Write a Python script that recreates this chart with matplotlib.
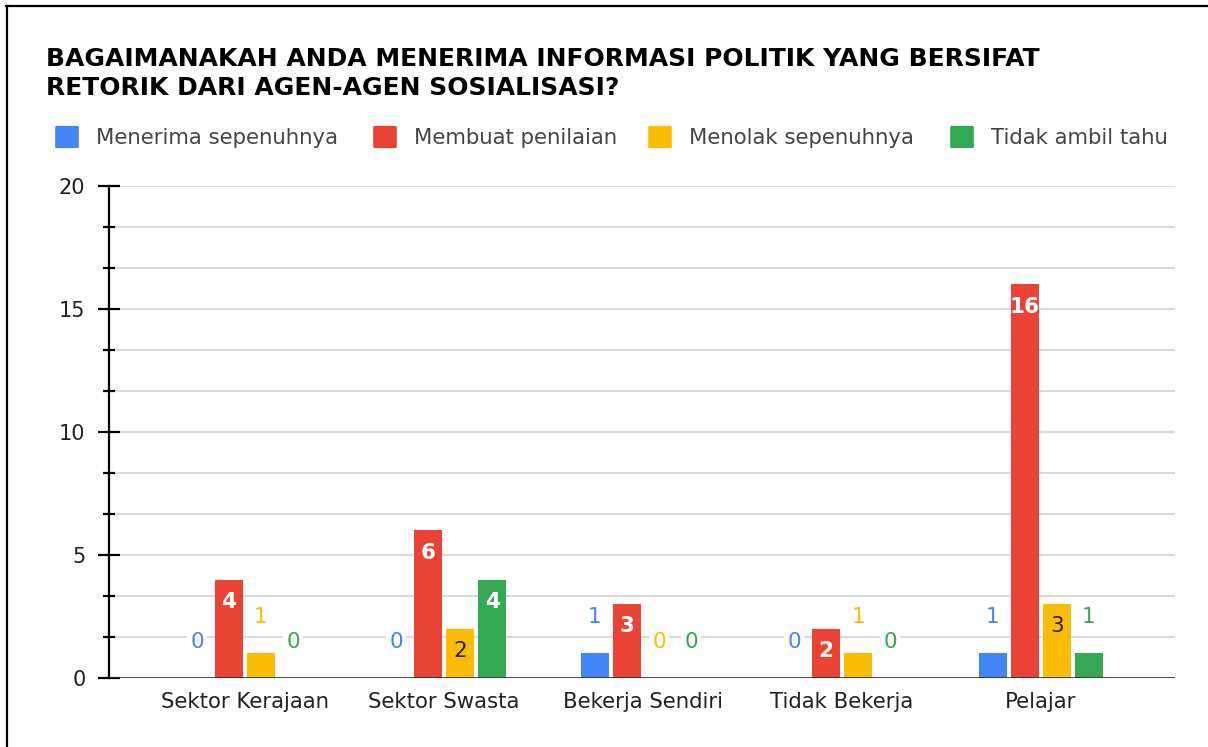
import matplotlib
matplotlib.use("Agg")
import matplotlib.pyplot as plt
import numpy as np
from matplotlib.lines import Line2D
from matplotlib.patches import FancyBboxPatch

title_lines = ["BAGAIMANAKAH ANDA MENERIMA INFORMASI POLITIK YANG BERSIFAT",
               "RETORIK DARI AGEN-AGEN SOSIALISASI?"]
categories = ["Sektor Kerajaan", "Sektor Swasta", "Bekerja Sendiri", "Tidak Bekerja", "Pelajar"]
series_names = ["Menerima sepenuhnya", "Membuat penilaian", "Menolak sepenuhnya", "Tidak ambil tahu"]
menerima = [0, 0, 1, 0, 1]
membuat = [4, 6, 3, 2, 16]
menolak = [1, 2, 0, 1, 3]
tidak_ambil = [0, 4, 0, 0, 1]
series_values = [menerima, membuat, menolak, tidak_ambil]
colors = ["#4285F4", "#EA4335", "#FBBC04", "#34A853"]
inside_text_colors = ["#ffffff", "#ffffff", "#222222", "#ffffff"]
y_major = [0, 5, 10, 15, 20]

FONT = "DejaVu Sans"
W, H = 1208, 747
fig = plt.figure(figsize=(W / 100, H / 100), dpi=100)
fig.patch.set_facecolor("white")

def fx(px):
    return px / W

def fy(py):
    return 1 - py / H

ax = fig.add_axes([fx(109), fy(678), fx(1175) - fx(109), fy(186) - fy(678)])
ax.set_facecolor("white")

bar_w = 28 / 199
step = 32 / 199
x = np.arange(len(categories))
offsets = (np.arange(4) - 1.5) * step

ax.set_xlim((109 - 245) / 199, (1175 - 245) / 199)
ax.set_ylim(0, 20)

# grid
minor = [v for v in np.arange(0, 20.01, 5 / 3) if v > 0.01]
for v in minor:
    ax.axhline(v, color="#d9d9d9", lw=1.4, zorder=0)

for i, (vals, c) in enumerate(zip(series_values, colors)):
    ax.bar(x + offsets[i], vals, width=bar_w, color=c, zorder=3, linewidth=0)
    for xi, v in zip(x + offsets[i], vals):
        if v >= 2:
            ax.annotate(str(v), (xi, v), xytext=(0, -16), textcoords="offset points",
                        ha="center", va="center", color=inside_text_colors[i],
                        fontsize=15.5, family=FONT,
                        fontweight="bold" if i != 2 else "normal", zorder=5)
        else:
            ax.annotate(str(v), (xi, v), xytext=(0, 26), textcoords="offset points",
                        ha="center", va="center", color=c,
                        fontsize=15.5, family=FONT, zorder=5,
                        bbox=dict(boxstyle="square,pad=0.15", fc="white", ec="none"))

ax.axhline(0, color="#333333", lw=2, zorder=4)

for s in ["top", "right", "bottom"]:
    ax.spines[s].set_visible(False)
ax.spines["left"].set_color("black")
ax.spines["left"].set_linewidth(1.6)
ax.spines["left"].set_zorder(6)

ax.set_yticks(y_major)
ax.set_yticklabels([str(v) for v in y_major])
ax.set_yticks([v for v in minor if abs(v / 5 - round(v / 5)) > 0.01], minor=True)
ax.tick_params(axis="y", which="major", direction="inout", length=16, width=1.6,
               color="black", pad=9, labelsize=15, labelcolor="#222222")
ax.tick_params(axis="y", which="minor", direction="inout", length=9, width=1.6, color="black")
for lab in ax.get_yticklabels():
    lab.set_family(FONT)

ax.set_xticks(x)
ax.set_xticklabels(categories)
ax.tick_params(axis="x", length=0, pad=10, labelsize=15.3, labelcolor="#222222")
for lab in ax.get_xticklabels():
    lab.set_family(FONT)

# title
fig.text(fx(46), fy(66), title_lines[0], fontsize=18, fontweight="bold",
         family=FONT, color="black", va="baseline", ha="left")
fig.text(fx(46), fy(95), title_lines[1], fontsize=18, fontweight="bold",
         family=FONT, color="black", va="baseline", ha="left")

# legend
sq_x = [55, 373, 648, 950]
for sx, name, c in zip(sq_x, series_names, colors):
    fig.patches.append(FancyBboxPatch((fx(sx + 2), fy(147)), fx(20), fy(127) - fy(147),
                                      boxstyle="round,pad=0.0015", fc=c, ec="none",
                                      transform=fig.transFigure, figure=fig))
    fig.text(fx(sx + 41), fy(144), name, fontsize=15.3, family=FONT,
             color="#444444", va="baseline", ha="left")

# border
fig.add_artist(Line2D([fx(7), fx(7)], [fy(6), 0], transform=fig.transFigure, color="black", lw=1.6))
fig.add_artist(Line2D([fx(6), 1], [fy(6), fy(6)], transform=fig.transFigure, color="black", lw=1.6))

fig.savefig("out.png", dpi=100, facecolor="white")
